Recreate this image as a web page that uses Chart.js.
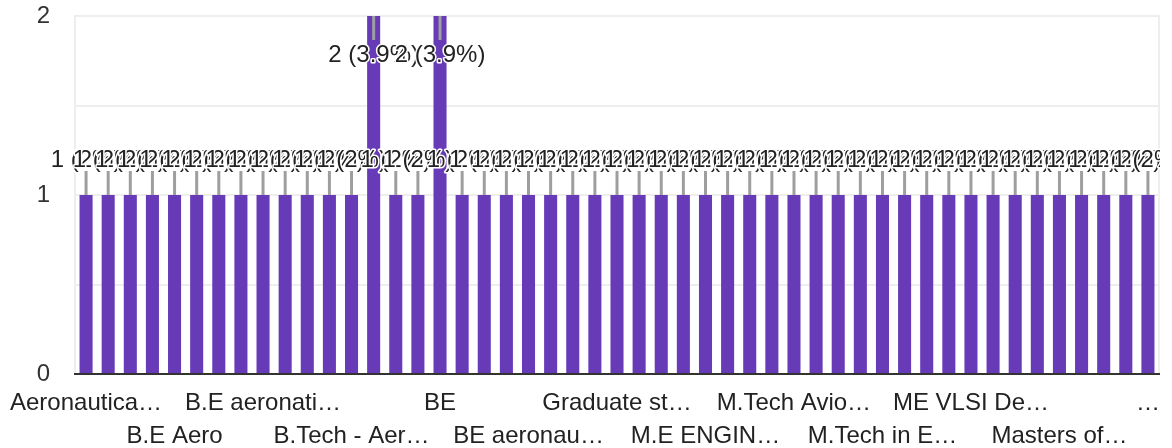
<!DOCTYPE html>
<html>
<head>
<meta charset="utf-8">
<script src="https://cdn.jsdelivr.net/npm/chart.js@4.4.1/dist/chart.umd.min.js"></script>
<style>
  html, body { margin: 0; padding: 0; background: #fff; }
  canvas { display: block; }
</style>
</head>
<body>
<canvas id="chart" width="1172" height="448"></canvas>
<script>
// answers, in the order the form lists them
var categories = [
  'Aeronautical Engineering', 'Aerospace Engineering', 'Avionics', 'B.E',
  'B.E Aero', 'B.E Aeronautical', 'B.E Aerospace', 'B.E Mechanical',
  'B.E aeronatical engineering', 'B.E aerospace', 'B.Sc Physics', 'B.Tech',
  'B.Tech - Aerospace', 'B.Tech Aeronautical', 'B.Tech Mechanical', 'B.tech',
  'BE', 'BE AERONAUTICAL', 'BE Aero', 'BE Aeronautical Engineering',
  'BE aeronautical', 'BE aerospace', 'Bachelor of Engineering', 'Diploma',
  'Graduate student', 'M.E', 'M.E Aeronautical', 'M.E Avionics',
  'M.E ENGINEERING DESIGN', 'M.Sc Physics', 'M.Tech', 'M.Tech Aerospace',
  'M.Tech Avionics', 'M.Tech Structures', 'M.Tech aerospace', 'M.Tech in Aerospace',
  'M.Tech in Embedded Systems', 'M.Tech in Propulsion', 'ME', 'ME Aeronautical',
  'ME VLSI Design', 'MSc', 'MTech', 'Master of Technology',
  'Masters of Engineering', 'Mechanical Engineering', 'PhD', 'Student',
  'UG final year Aerospace Engineering student'
];

var counts = [
  1, 1, 1, 1, 1, 1, 1, 1, 1, 1, 1, 1, 1, 2, 1, 1,
  2, 1, 1, 1, 1, 1, 1, 1, 1, 1, 1, 1, 1, 1, 1, 1,
  1, 1, 1, 1, 1, 1, 1, 1, 1, 1, 1, 1, 1, 1, 1, 1,
  1
];

// the shortened names shown under every 4th bar
var tickLabels = [
  'Aeronautica\u2026', 'B.E Aero', 'B.E aeronati\u2026', 'B.Tech - Aer\u2026',
  'BE', 'BE aeronau\u2026', 'Graduate st\u2026', 'M.E ENGIN\u2026',
  'M.Tech Avio\u2026', 'M.Tech in E\u2026', 'ME VLSI De\u2026', 'Masters of\u2026',
  '\u2026'
];

var yTicks = [0, 1, 2];

var total = counts.reduce(function(a, b) { return a + b; }, 0);
var FONT = '"Liberation Sans", Arial, sans-serif';
var STEM = 24;

function percent(v) {
  return Math.round(v / total * 1000) / 10;
}

// chart area frame plus the annotation stems and labels
var annotate = {
  id: 'annotate',
  beforeDatasetsDraw: function(chart) {
    var ctx = chart.ctx, a = chart.chartArea;
    ctx.save();
    ctx.strokeStyle = '#eeeeee';
    ctx.lineWidth = 2;
    ctx.strokeRect(a.left, a.top, a.right - a.left, a.bottom - a.top);
    ctx.restore();
  },
  afterDatasetsDraw: function(chart) {
    var ctx = chart.ctx, a = chart.chartArea;
    var bars = chart.getDatasetMeta(0).data;
    ctx.save();
    // labels run past the left edge but get cut at the right one
    ctx.beginPath();
    ctx.rect(0, 0, a.right + 1, chart.height);
    ctx.clip();
    ctx.font = '24px ' + FONT;
    ctx.textAlign = 'center';
    ctx.textBaseline = 'alphabetic';
    ctx.lineJoin = 'round';
    bars.forEach(function(bar, i) {
      var v = counts[i];
      var text = v + ' (' + percent(v) + '%)';
      var inside = bar.y - STEM - 24 < a.top;
      var y1 = inside ? bar.y + STEM : bar.y - STEM;
      var ty = inside ? y1 + 22 : y1 - 4;

      ctx.strokeStyle = '#9e9e9e';
      ctx.lineWidth = 3;
      ctx.beginPath();
      ctx.moveTo(bar.x, bar.y);
      ctx.lineTo(bar.x, y1);
      ctx.stroke();

      ctx.strokeStyle = '#ffffff';
      ctx.lineWidth = 3;
      ctx.strokeText(text, bar.x, ty);
      ctx.fillStyle = '#222222';
      ctx.fillText(text, bar.x, ty);
    });
    ctx.restore();
  }
};

new Chart(document.getElementById('chart'), {
  type: 'bar',
  data: {
    labels: categories,
    datasets: [{
      data: counts,
      backgroundColor: '#673ab7',
      borderWidth: 0,
      barPercentage: 0.59,
      categoryPercentage: 1
    }]
  },
  options: {
    responsive: false,
    animation: false,
    devicePixelRatio: 1,
    layout: { padding: { top: 16, right: 13, left: 0, bottom: 0 } },
    plugins: {
      legend: { display: false },
      tooltip: { enabled: false }
    },
    scales: {
      x: {
        grid: { display: false },
        border: { display: true, color: '#333333', width: 2, z: 1 },
        ticks: {
          autoSkip: false,
          maxRotation: 0,
          minRotation: 0,
          padding: 5,
          color: '#222222',
          font: { family: FONT, size: 24, lineHeight: 1.375 },
          callback: function(v, i) {
            if (i % 4) return '';
            var t = tickLabels[i / 4];
            return (i % 8) ? ['', t] : t;
          }
        },
        afterFit: function(scale) { scale.height = 74; }
      },
      y: {
        min: 0,
        max: 2,
        grid: { color: '#eeeeee', lineWidth: 2, drawTicks: false },
        border: { display: false },
        ticks: {
          stepSize: 0.5,
          padding: 25,
          color: '#333333',
          font: { family: FONT, size: 24 },
          callback: function(v) { return yTicks.indexOf(v) >= 0 ? v : ''; }
        },
        afterFit: function(scale) {
          scale.width = 75;
          scale.paddingTop = 0;
          scale.paddingBottom = 0;
        }
      }
    }
  },
  plugins: [annotate]
});
</script>
</body>
</html>
